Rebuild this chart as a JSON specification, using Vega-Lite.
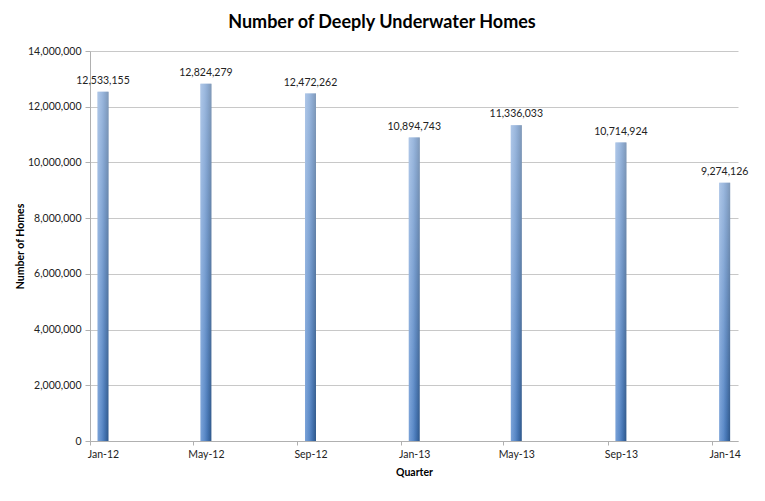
{
  "$schema": "https://vega.github.io/schema/vega-lite/v6.json",
  "width": 648,
  "height": 390,
  "autosize": {"type": "none"},
  "padding": {"left": 90, "top": 51, "right": 27, "bottom": 60},
  "background": "white",
  "title": {
    "text": "Number of Deeply Underwater Homes",
    "font": "Lato",
    "fontSize": 18,
    "fontWeight": "bold",
    "color": "#000000",
    "anchor": "middle",
    "dx": -32,
    "offset": 14
  },
  "config": {
    "view": {"stroke": null},
    "font": "Lato",
    "axis": {
      "labelFont": "Lato",
      "labelFontSize": 10.5,
      "labelColor": "#222222",
      "titleFont": "Lato",
      "titleFontSize": 10.5,
      "titleFontWeight": "bold",
      "titleColor": "#000000",
      "domainColor": "#b0b0b0",
      "tickColor": "#b0b0b0",
      "gridColor": "#c8c8c8"
    }
  },
  "data": {
    "values": [
      {"quarter": "2012-01-01", "homes": 12533155},
      {"quarter": "2012-05-01", "homes": 12824279},
      {"quarter": "2012-09-01", "homes": 12472262},
      {"quarter": "2013-01-01", "homes": 10894743},
      {"quarter": "2013-05-01", "homes": 11336033},
      {"quarter": "2013-09-01", "homes": 10714924},
      {"quarter": "2014-01-01", "homes": 9274126}
    ]
  },
  "encoding": {
    "x": {
      "field": "quarter",
      "type": "temporal",
      "title": "Quarter",
      "scale": {
        "type": "utc",
        "padding": 0,
        "domain": [
          {"year": 2012, "month": 1, "date": 1, "utc": true},
          {"year": 2014, "month": 2, "date": 1, "utc": true}
        ]
      },
      "axis": {
        "values": [
          {"year": 2012, "month": 1, "date": 1, "utc": true},
          {"year": 2012, "month": 5, "date": 1, "utc": true},
          {"year": 2012, "month": 9, "date": 1, "utc": true},
          {"year": 2013, "month": 1, "date": 1, "utc": true},
          {"year": 2013, "month": 5, "date": 1, "utc": true},
          {"year": 2013, "month": 9, "date": 1, "utc": true},
          {"year": 2014, "month": 1, "date": 1, "utc": true}
        ],
        "labelExpr": "utcFormat(datum.value, '%b-%y')",
        "labelOffset": 13,
        "labelAlign": "center",
        "labelPadding": 4,
        "tickSize": 4,
        "grid": false,
        "titlePadding": 8
      }
    },
    "y": {
      "field": "homes",
      "type": "quantitative",
      "title": "Number of Homes",
      "scale": {"domain": [0, 14000000]},
      "axis": {
        "values": [0, 2000000, 4000000, 6000000, 8000000, 10000000, 12000000, 14000000],
        "format": ",d",
        "tickSize": 5,
        "labelPadding": 4,
        "titleX": -65,
        "grid": true
      }
    }
  },
  "layer": [
    {
      "mark": {
        "type": "bar",
        "width": 11,
        "xOffset": 13,
        "fill": {
          "gradient": "linear",
          "x1": 0, "y1": 0, "x2": 1, "y2": 0,
          "stops": [
            {"offset": 0, "color": "#7aa2d8"},
            {"offset": 0.4, "color": "#5b8ac8"},
            {"offset": 0.65, "color": "#4474b3"},
            {"offset": 1, "color": "#2d5689"}
          ]
        }
      }
    },
    {
      "mark": {
        "type": "bar",
        "width": 11,
        "xOffset": 13,
        "fill": {
          "gradient": "linear",
          "x1": 0, "y1": 0, "x2": 0, "y2": 1,
          "stops": [
            {"offset": 0, "color": "rgba(255,255,255,0.4)"},
            {"offset": 1, "color": "rgba(255,255,255,0)"}
          ]
        }
      }
    },
    {
      "mark": {
        "type": "text",
        "baseline": "bottom",
        "dy": -6,
        "xOffset": 13,
        "font": "Lato",
        "fontSize": 10.5,
        "color": "#222222"
      },
      "encoding": {
        "text": {"field": "homes", "type": "quantitative", "format": ",d"}
      }
    }
  ]
}
